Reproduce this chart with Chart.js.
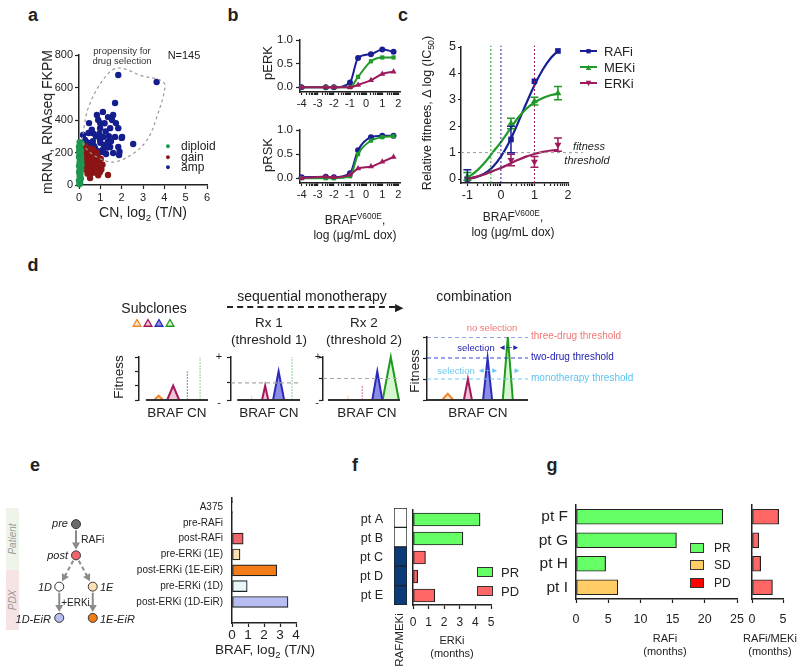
<!DOCTYPE html>
<html>
<head>
<meta charset="utf-8">
<script src="https://cdn.jsdelivr.net/npm/chart.js@4.4.1/dist/chart.umd.min.js"></script>
<style>
html, body { margin: 0; padding: 0; background: #fff; }
#fig { position: relative; width: 800px; height: 672px; overflow: hidden; font-family: 'Liberation Sans', Arial, Helvetica, sans-serif; color: #222; }
#fig canvas { position: absolute; }
.t { position: absolute; white-space: nowrap; line-height: 1; }
sub, sup { font-size: 70%; line-height: 0; }
</style>
</head>
<body>
<div id="fig"></div>
<script>
// --- DATA ---
// a: CN vs mRNA per tumour
const diploid = [[0.02,5],[0.06,12],[0,28],[0.09,40],[0.03,55],[0.07,68],[0.01,82],[0.1,95],[0.04,105],[0,118],[0.08,128],[0.03,140],[0.11,150],[0.05,160],[0,172],[0.08,182],[0.02,192],[0.06,202],[0.1,212],[0.04,222],[0,236],[0.07,246],[0.12,256],[0.03,264],[0.09,108],[0.05,195],[0.12,125],[0.02,75],[0.06,150],[0.1,178],[0.01,210],[0.07,90]];
const gain = [[0.2,120],[0.25,150],[0.3,95],[0.3,180],[0.35,130],[0.35,210],[0.4,70],[0.4,160],[0.45,110],[0.45,190],[0.5,140],[0.5,85],[0.55,170],[0.55,120],[0.6,100],[0.6,200],[0.62,150],[0.65,75],[0.68,130],[0.7,180],[0.72,110],[0.75,160],[0.78,90],[0.8,140],[0.82,200],[0.85,120],[0.88,170],[0.9,100],[0.92,150],[0.95,130],[0.98,80],[1,110],[1.02,160],[1.05,95],[0.15,170],[0.18,140],[0.22,200],[0.28,230],[0.33,105],[0.38,145],[0.42,225],[0.48,125],[0.52,100],[0.58,135],[0.63,115],[0.67,165],[0.73,145],[0.77,120],[0.83,100],[0.87,135],[1.1,125],[1.36,62],[0.52,43],[0.9,60],[0.3,240],[0.25,100],[0.65,220],[0.45,155],[0.85,185],[0.2,185]];
const amp = [[1.84,677],[3.64,634],[1.69,505],[1.12,450],[0.84,431],[1.36,418],[1.6,431],[0.47,381],[0.9,400],[1.73,381],[1.46,350],[1.84,350],[0.99,350],[0.19,308],[0.66,318],[1.13,296],[2.02,296],[1.69,296],[0.28,277],[0.52,258],[0.99,277],[1.46,234],[1.84,234],[2.54,252],[1.17,246],[0.75,228],[0.9,197],[1.27,191],[1.6,197],[1.88,185],[1.08,203],[1.2,380],[0.6,340],[1,260],[1.4,300],[0.4,250],[0.8,300],[1.5,270],[0.7,240],[1.1,215],[1.3,230],[0.55,205],[0.85,210],[1.9,205],[2,290],[1.25,330],[0.45,320],[0.95,315],[0.65,270],[1.55,400],[1,380],[0.35,265],[1.35,265]];
const selectionHull = [[0.14,277],[0.45,480],[1.2,660],[1.83,720],[3,670],[3.8,646],[4.04,610],[3.6,400],[3.19,277],[2.5,190],[1.6,141],[0.84,172],[0.3,230],[0.14,277]];
const aTicksX = [0, 1, 2, 3, 4, 5, 6];
const aTicksY = [0, 200, 400, 600, 800];

// b: signalling vs dox dose
const doseB = [-4, -2.5, -2, -1, -0.5, 0.3, 1, 1.7];
const pERK_RAFi = [0, 0, 0, 0.1, 0.62, 0.7, 0.8, 0.75];
const pERK_MEKi = [0, 0, 0, 0, 0.22, 0.55, 0.63, 0.63];
const pERK_ERKi = [0, 0, 0, 0, 0.05, 0.15, 0.28, 0.33];
const pRSK_RAFi = [0.02, 0.03, 0.02, 0.1, 0.58, 0.85, 0.88, 0.88];
const pRSK_MEKi = [0, 0, 0, 0.04, 0.5, 0.78, 0.85, 0.87];
const pRSK_ERKi = [0, 0.03, 0.02, 0.07, 0.2, 0.24, 0.34, 0.44];
const bTicksX = [-4, -3, -2, -1, 0, 1, 2];
const bTicksY = [0, 0.5, 1];

// c: relative fitness
const doseC = [-1, 0.3, 1, 1.7];
const fitRAFi = [0, 1.5, 3.7, 4.85];
const errRAFi = [0.35, 0.5, 0, 0];
const fitMEKi = [0.1, 2.1, 2.95, 3.25];
const errMEKi = [0.15, 0.2, 0.15, 0.25];
const fitERKi = [0, 0.72, 0.65, 1.3];
const errERKi = [0, 0.22, 0.2, 0.25];
const curveX = [-1, -0.75, -0.5, -0.25, 0, 0.25, 0.5, 0.75, 1, 1.25, 1.5, 1.7];
const curveRAFi = [0, 0.07, 0.2, 0.45, 0.85, 1.4, 2.1, 2.85, 3.55, 4.15, 4.6, 4.85];
const curveMEKi = [0.05, 0.28, 0.6, 1.0, 1.4, 1.85, 2.3, 2.65, 2.9, 3.07, 3.18, 3.23];
const curveERKi = [0, 0.08, 0.17, 0.3, 0.42, 0.57, 0.72, 0.85, 0.95, 1.03, 1.08, 1.1];
const ic50Lines = [-0.3, 0, 1];
const fitnessThreshold = 1;
const cTicksX = [-1, 0, 1, 2];
const cTicksY = [0, 1, 2, 3, 4, 5];

// d: schematic subclone fitness
const subcloneColor = ['#f0862a', '#a3195b', '#2b2bb8', '#1f9a1f'];
const subcloneFill = ['#fde3c8', '#f2c1d6', '#8c8ee6', '#d6f7cf'];
const subcloneFaint = ['#f5b27a', '#c97aa0', '#7c7ce0', '#8fd08f'];
const fitnessLevel = [0.3, 1, 2, 3];
const cnStep0 = [2.85, 4.95, 7.0, 8.85], wStep0 = [0.65, 0.87, 0, 0];
const cnStep1 = [3.0, 4.95, 6.9, 8.85], wStep1 = [0, 0.45, 0.8, 0];
const cnStep2 = [3.25, 5.1, 7.05, 8.8], wStep2 = [0, 0, 0.65, 1.05];
const cnComb = [2.05, 4.05, 6.0, 8.0], wComb = [0.55, 0.4, 0.45, 0.5];
const threshold1 = 1.2, threshold2 = 1.5;
const combThresholds = [1, 2, 3];
const combThresholdColor = ['#66c8f0', '#3344dd', '#3344dd'];

// e: PDX lineage and BRAF CN
const treeNodes = ['pre', 'post', '1D', '1E', '1D-EiR', '1E-EiR'];
const treeCol = [0, 0, -1, 1, -1, 1];
const treeLevel = [0, 1, 2, 2, 3, 3];
const treeFill = ['#6b6b6b', '#f0646e', '#ffffff', '#fde0b0', '#b8bdf2', '#f47c16'];
const treeEdges = [[0, 1, 'solid'], [1, 2, 'dash'], [1, 3, 'dash'], [2, 4, 'solid'], [3, 5, 'solid']];
const eCats = ['A375', 'pre-RAFi', 'post-RAFi', 'pre-ERKi (1E)', 'post-ERKi (1E-EiR)', 'pre-ERKi (1D)', 'post-ERKi (1D-EiR)'];
const eVals = [0.02, 0, 0.7, 0.5, 2.8, 0.95, 3.5];
const eColors = ['#ffffff', '#ffffff', '#f0646e', '#fde0b0', '#f47c16', '#e8f6fb', '#b8bdf2'];

// f / g: patient responses
const respColor = { PR: '#66ff66', SD: '#ffcc66', PD: '#ff6666' };
const fCats = ['pt A', 'pt B', 'pt C', 'pt D', 'pt E'];
const fERKi = [4.3, 3.2, 0.8, 0.3, 1.4];
const fResp = ['PR', 'PR', 'PD', 'PD', 'PD'];
const fPriorRafMek = [false, false, true, true, true];
const gCats = ['pt F', 'pt G', 'pt H', 'pt I'];
const gRAFi = [22.8, 15.6, 4.6, 6.5];
const gRAFiResp = ['PR', 'PR', 'PR', 'SD'];
const gRafMek = [4.3, 1.1, 1.4, 3.3];
const gRafMekResp = ['PD', 'PD', 'PD', 'PD'];

// --- HELPERS ---
const BLUE = '#1a1f96', GREEN = '#1f9a2a', PURPLE = '#9b1b5c';
Chart.defaults.font.family = "'Liberation Sans', Arial, Helvetica, sans-serif";
Chart.defaults.color = '#222';
Chart.defaults.animation = false;
Chart.defaults.responsive = false;
Chart.defaults.plugins.legend.display = false;
Chart.defaults.plugins.tooltip.enabled = false;

const fig = document.getElementById('fig');

function label(html, x, y, o = {}) {
  const d = document.createElement('div');
  d.className = 't';
  d.innerHTML = html;
  const ax = o.align === 'left' ? '0' : o.align === 'right' ? '-100%' : '-50%';
  d.style.left = x + 'px';
  d.style.top = y + 'px';
  d.style.fontSize = (o.size || 13) + 'px';
  d.style.color = o.color || '#222';
  if (o.bold) d.style.fontWeight = 'bold';
  if (o.italic) d.style.fontStyle = 'italic';
  d.style.transform = `translate(${ax},-50%)` + (o.rot ? ` rotate(${o.rot}deg)` : '');
  fig.appendChild(d);
  return d;
}

function box(l, t, w, h, css) {
  const d = document.createElement('div');
  d.style.cssText = `position:absolute;left:${l}px;top:${t}px;width:${w}px;height:${h}px;box-sizing:border-box;${css}`;
  fig.appendChild(d);
  return d;
}

// put a chart so that its plot area lands on [l, t, r, b] of the page
function mount(area, ax, cfg) {
  const [l, t, r, b] = area.map(Math.round);
  const yw = ax.yw || 0, xh = ax.xh || 0;
  const pl = ax.pl ?? 10, pr = ax.pr ?? 10, pt = ax.pt ?? 10, pb = ax.pb ?? 10;
  const W = r - l + yw + pl + pr, H = b - t + xh + pt + pb;
  const c = document.createElement('canvas');
  c.width = W; c.height = H;
  c.style.left = (l - yw - pl) + 'px';
  c.style.top = (t - pt) + 'px';
  c.style.width = W + 'px';
  c.style.height = H + 'px';
  fig.appendChild(c);
  cfg.options = cfg.options || {};
  cfg.options.devicePixelRatio = 1;
  cfg.options.layout = { padding: { left: pl, right: pr, top: pt, bottom: pb } };
  return new Chart(c, cfg);
}

function axis(o) {
  const tl = o.tl == null ? 4 : o.tl;
  const a = {
    type: o.type || 'linear',
    display: o.show !== false,
    afterFit: s => {
      if (s.isHorizontal()) s.height = o.size || 0; else s.width = o.size || 0;
      // keep label overflow from moving the plot area
      s.paddingTop = s.paddingBottom = s.paddingLeft = s.paddingRight = 0;
    },
    grid: { drawOnChartArea: false, drawTicks: tl > 0, tickLength: tl, tickColor: '#222', tickWidth: 1.2 },
    border: { display: o.border !== false, color: '#222', width: 1.5 },
    ticks: { display: o.labels !== false, color: '#222', font: { size: o.fs || 12 }, padding: o.pad == null ? 2 : o.pad, maxRotation: 0, autoSkip: false }
  };
  if (o.min != null) a.min = o.min;
  if (o.max != null) a.max = o.max;
  if (o.reverse) a.reverse = true;
  if (o.offset != null) { a.offset = o.offset; a.grid.offset = o.offset; }
  if (o.ticks) a.afterBuildTicks = s => { s.ticks = o.ticks.map(v => ({ value: v })); };
  if (o.fmt) a.ticks.callback = o.fmt;
  return a;
}

const xy = arr => arr.map(([x, y]) => ({ x, y }));
const intLabel = v => Number.isInteger(v) ? String(v) : '';
// minor ticks between decades on the log-dose axes
function decadeMinor(from, to) {
  const out = [];
  for (let k = from; k < to; k++) for (let m = 2; m <= 9; m++) out.push(k + Math.log10(m));
  return out;
}

// error bars for panel c
const errorBars = {
  id: 'errorBars',
  afterDatasetsDraw(chart) {
    const { ctx, chartArea: ca, scales: { x, y } } = chart;
    chart.data.datasets.forEach(ds => {
      if (!ds.err) return;
      ctx.save();
      ctx.beginPath();
      ctx.rect(ca.left, ca.top - 12, ca.width + 30, ca.height + 12);
      ctx.clip();
      ctx.strokeStyle = ds.borderColor;
      ctx.lineWidth = 1.5;
      ds.data.forEach((p, i) => {
        const e = ds.err[i];
        if (!e) return;
        const px = x.getPixelForValue(p.x), hi = y.getPixelForValue(p.y + e), lo = y.getPixelForValue(p.y - e);
        ctx.beginPath();
        ctx.moveTo(px, hi); ctx.lineTo(px, lo);
        ctx.moveTo(px - 4, hi); ctx.lineTo(px + 4, hi);
        ctx.moveTo(px - 4, lo); ctx.lineTo(px + 4, lo);
        ctx.stroke();
      });
      ctx.restore();
    });
  }
};

// arrows between lineage nodes for panel e
const treeArrows = {
  id: 'treeArrows',
  beforeDatasetsDraw(chart) {
    const { ctx, scales: { x, y } } = chart;
    treeEdges.forEach(([a, b, style]) => {
      const x1 = x.getPixelForValue(treeCol[a]), y1 = y.getPixelForValue(treeLevel[a]);
      const x2 = x.getPixelForValue(treeCol[b]), y2 = y.getPixelForValue(treeLevel[b]);
      const ang = Math.atan2(y2 - y1, x2 - x1), cs = Math.cos(ang), sn = Math.sin(ang);
      const sx = x1 + cs * 6, sy = y1 + sn * 6, ex = x2 - cs * 6, ey = y2 - sn * 6;
      ctx.save();
      ctx.strokeStyle = '#8a8a8a'; ctx.fillStyle = '#8a8a8a'; ctx.lineWidth = 2;
      ctx.setLineDash(style === 'dash' ? [4, 3] : []);
      ctx.beginPath(); ctx.moveTo(sx, sy); ctx.lineTo(ex - cs * 5, ey - sn * 5); ctx.stroke();
      ctx.setLineDash([]);
      ctx.beginPath();
      ctx.moveTo(ex, ey);
      ctx.lineTo(ex - cs * 7 + sn * 4, ey - sn * 7 - cs * 4);
      ctx.lineTo(ex - cs * 7 - sn * 4, ey - sn * 7 + cs * 4);
      ctx.closePath(); ctx.fill();
      ctx.restore();
    });
  }
};

// --- PANEL a ---
mount([79, 55, 207, 185], { yw: 40, xh: 18 }, {
  type: 'scatter',
  data: {
    datasets: [
      { type: 'line', data: xy(selectionHull), borderColor: '#9a9a9a', borderDash: [3, 3], borderWidth: 1.2, pointRadius: 0, tension: 0.35, fill: false, clip: false },
      { data: xy(diploid), backgroundColor: '#1e9650', borderWidth: 0, pointRadius: 3.2, clip: false },
      { data: xy(gain), backgroundColor: '#8c1414', borderWidth: 0, pointRadius: 3.2, clip: false },
      { data: xy(amp), backgroundColor: '#141e8c', borderWidth: 0, pointRadius: 3.2, clip: false }
    ]
  },
  options: {
    scales: {
      x: axis({ min: 0, max: 6, ticks: aTicksX, size: 18, fs: 11 }),
      y: axis({ min: 0, max: 800, ticks: aTicksY, size: 40, fs: 11 })
    }
  }
});

// --- PANEL b ---
function doseCurve(vals, color, style, r) {
  return { data: doseB.map((x, i) => ({ x, y: vals[i] })), borderColor: color, backgroundColor: color, borderWidth: 2, pointStyle: style, pointRadius: r, pointBorderWidth: 0, cubicInterpolationMode: 'monotone', clip: false };
}
function signalChart(area, raf, mek, erk) {
  mount(area, { yw: 40, xh: 18 }, {
    type: 'line',
    data: { datasets: [doseCurve(erk, PURPLE, 'triangle', 3.5), doseCurve(mek, GREEN, 'rect', 3), doseCurve(raf, BLUE, 'circle', 3)] },
    options: {
      scales: {
        x: axis({ min: -4.1, max: 2.1, ticks: bTicksX.concat(decadeMinor(-4, 2)), fmt: intLabel, size: 18, tl: 3, fs: 11 }),
        y: axis({ min: -0.1, max: 1, ticks: bTicksY, fmt: v => v.toFixed(1), size: 40, fs: 11.5, pad: 3 })
      }
    }
  });
}
signalChart([300, 40, 400, 92], pERK_RAFi, pERK_MEKi, pERK_ERKi);
signalChart([300, 130, 400, 183], pRSK_RAFi, pRSK_MEKi, pRSK_ERKi);

// --- PANEL c ---
const icColor = [GREEN, BLUE, PURPLE];
function fitCurve(vals, color) {
  return { type: 'line', data: curveX.map((x, i) => ({ x, y: vals[i] })), borderColor: color, borderWidth: 2.2, pointRadius: 0, tension: 0.4, clip: false };
}
function fitPts(vals, err, color, style, rot) {
  return { type: 'scatter', data: doseC.map((x, i) => ({ x, y: vals[i] })), err, backgroundColor: color, borderColor: color, borderWidth: 0, pointStyle: style, rotation: rot, pointRadius: 4, clip: false };
}
mount([461, 47, 568, 183], { yw: 30, xh: 18, pr: 20 }, {
  type: 'line',
  data: {
    datasets: [
      ...ic50Lines.map((v, i) => ({ data: [{ x: v, y: -0.15 }, { x: v, y: 5.05 }], borderColor: icColor[i], borderWidth: 1, borderDash: [2, 2], pointRadius: 0, clip: false })),
      { data: [{ x: -1.19, y: fitnessThreshold }, { x: 2.45, y: fitnessThreshold }], borderColor: '#9a9a9a', borderWidth: 1, borderDash: [3, 3], pointRadius: 0, clip: false },
      fitCurve(curveERKi, PURPLE), fitCurve(curveMEKi, GREEN), fitCurve(curveRAFi, BLUE),
      fitPts(fitERKi, errERKi, PURPLE, 'triangle', 180),
      fitPts(fitMEKi, errMEKi, GREEN, 'triangle', 0),
      fitPts(fitRAFi, errRAFi, BLUE, 'rect', 0)
    ]
  },
  options: {
    scales: {
      x: axis({ min: -1.19, max: 2, ticks: cTicksX.concat(decadeMinor(-1, 2)), fmt: intLabel, size: 18, fs: 12.5, tl: 3 }),
      y: axis({ min: -0.15, max: 5, ticks: cTicksY, size: 30, fs: 12.5, tl: 3 })
    }
  },
  plugins: [errorBars]
});

// --- PANEL d ---
function peak(i, c, w) {
  const h = fitnessLevel[i];
  if (w > 0) return { data: [{ x: c - w, y: 0 }, { x: c, y: h }, { x: c + w, y: 0 }], borderColor: subcloneColor[i], backgroundColor: subcloneFill[i], borderWidth: 2, fill: 'origin', pointRadius: 0, tension: 0, clip: false };
  return { data: [{ x: c, y: 0 }, { x: c, y: h }], borderColor: subcloneFaint[i], borderWidth: 1, borderDash: [2, 1], pointRadius: 0, fill: false, clip: false };
}
function fitnessPanel(area, cn, w, thr, thrColor, ticks, baseStart) {
  const ds = [{ data: [{ x: baseStart, y: 0 }, { x: 10, y: 0 }], borderColor: '#333', borderWidth: 2, pointRadius: 0, clip: false }];
  thr.forEach((t, i) => ds.push({ data: [{ x: 0, y: t }, { x: 10, y: t }], borderColor: thrColor[i], borderWidth: 1.2, borderDash: [4, 3], pointRadius: 0 }));
  cn.forEach((c, i) => ds.push(peak(i, c, w[i])));
  mount(area, { yw: 6, pt: 6, pb: 6 }, {
    type: 'line',
    data: { datasets: ds },
    options: { scales: { x: { type: 'linear', display: false, min: 0, max: 10 }, y: axis({ min: 0, max: 3, ticks, labels: false, size: 6, tl: 4 }) } }
  });
}
fitnessPanel([139, 357, 208, 400], cnStep0, wStep0, [], [], [0, 1, 2, 3], 1);
fitnessPanel([231, 357, 300, 400], cnStep1, wStep1, [threshold1], ['#a8a8a8'], [0, threshold1, 3], 0.9);
fitnessPanel([323, 357, 400, 400], cnStep2, wStep2, [threshold2], ['#a8a8a8'], [0, threshold2, 3], 0.65);
fitnessPanel([427, 337, 528, 400], cnComb, wComb, combThresholds, combThresholdColor, [0, 1, 2, 3], 0);

// subclone key
mount([137, 322, 170, 326], { pl: 8, pr: 8, pt: 8, pb: 8 }, {
  type: 'scatter',
  data: { datasets: [{ data: subcloneColor.map((c, i) => ({ x: i, y: 0.5 })), pointStyle: 'triangle', pointRadius: 4.5, borderWidth: 1.3, borderColor: subcloneColor, backgroundColor: subcloneFill, clip: false }] },
  options: { scales: { x: { display: false, min: 0, max: 3 }, y: { display: false, min: 0, max: 1 } } }
});

// --- PANEL e ---
mount([40.5, 507, 110.5, 635], { pl: 4, pr: 4, pt: 4, pb: 4 }, {
  type: 'scatter',
  data: { datasets: [{ data: treeNodes.map((n, i) => ({ x: treeCol[i], y: treeLevel[i] })), backgroundColor: treeFill, borderColor: '#333', borderWidth: 1, pointRadius: 4.5, clip: false }] },
  options: { scales: { x: { display: false, min: -2, max: 2 }, y: { display: false, min: -0.5, max: 3.5, reverse: true } } },
  plugins: [treeArrows]
});
mount([232, 498, 296, 623], { yw: 102, xh: 22 }, {
  type: 'bar',
  data: { datasets: [{ data: eVals.map((v, i) => ({ x: v, y: i })), backgroundColor: eColors, borderColor: '#222', borderWidth: 1.2, barThickness: 11, borderSkipped: false }] },
  options: {
    indexAxis: 'y',
    scales: {
      x: axis({ min: 0, max: 4, ticks: [0, 1, 2, 3, 4], size: 22, fs: 13.5, pad: 0 }),
      y: axis({ type: 'linear', offset: false, min: -0.57, max: 7.33, reverse: true, ticks: eCats.map((c, i) => i), fmt: v => eCats[v], size: 102, tl: 0, pad: 9, fs: 10 })
    }
  }
});

// --- PANEL f ---
mount([394, 508, 407, 605], { pl: 2, pr: 2, pt: 2, pb: 2 }, {
  type: 'bar',
  data: { labels: fCats, datasets: [{ data: fCats.map(() => 1), backgroundColor: fPriorRafMek.map(v => v ? '#0b3b78' : '#ffffff'), borderColor: '#222', borderWidth: 1, barPercentage: 1, categoryPercentage: 1, borderSkipped: false }] },
  options: { indexAxis: 'y', scales: { x: { display: false, min: 0, max: 1 }, y: { display: false } } }
});
mount([413, 509.5, 491, 604.5], { yw: 53, xh: 28 }, {
  type: 'bar',
  data: { labels: fCats, datasets: [{ data: fERKi, backgroundColor: fResp.map(r => respColor[r]), borderColor: '#222', borderWidth: 1.2, barThickness: 13, borderSkipped: false }] },
  options: {
    indexAxis: 'y',
    scales: {
      x: axis({ min: 0, max: 5, ticks: [0, 1, 2, 3, 4, 5], size: 28, fs: 12, pad: 6 }),
      y: axis({ type: 'category', size: 53, tl: 0, pad: 30, fs: 12.5 })
    }
  }
});

// --- PANEL g ---
mount([576, 505, 737, 599.4], { yw: 46, xh: 30 }, {
  type: 'bar',
  data: { labels: gCats, datasets: [{ data: gRAFi, backgroundColor: gRAFiResp.map(r => respColor[r]), borderColor: '#222', borderWidth: 1.2, barThickness: 15, borderSkipped: false }] },
  options: {
    indexAxis: 'y',
    scales: {
      x: axis({ min: 0, max: 25, ticks: [0, 5, 10, 15, 20, 25], size: 30, fs: 12.5, pad: 9 }),
      y: axis({ type: 'category', size: 46, tl: 0, pad: 8, fs: 15.5 })
    }
  }
});
mount([752, 505, 783, 599.4], { yw: 1, xh: 30 }, {
  type: 'bar',
  data: { labels: gCats, datasets: [{ data: gRafMek, backgroundColor: gRafMekResp.map(r => respColor[r]), borderColor: '#222', borderWidth: 1.2, barThickness: 15, borderSkipped: false }] },
  options: {
    indexAxis: 'y',
    scales: {
      x: axis({ min: 0, max: 5, ticks: [0, 5], size: 30, fs: 12.5, pad: 9 }),
      y: axis({ type: 'category', size: 1, tl: 0, labels: false })
    }
  }
});

// --- TEXT ---
[['a', 33, 15], ['b', 233, 15], ['c', 403, 15], ['d', 33, 265], ['e', 35, 465], ['f', 355, 465], ['g', 552, 465]]
  .forEach(([s, x, y]) => label(s, x, y, { size: 18, bold: true }));

// a
label('propensity for', 122, 51, { size: 9.5, color: '#333' });
label('drug selection', 122, 61, { size: 9.5, color: '#333' });
label('N=145', 184, 55, { size: 11 });
label('mRNA, RNAseq FKPM', 47, 122, { size: 14, rot: -90 });
label('CN, log<sub>2</sub> (T/N)', 143, 212, { size: 14 });
[['diploid', '#1e9650', 146], ['gain', '#8c1414', 157], ['amp', '#141e8c', 167]].forEach(([s, c, y]) => {
  label('●', 168, y, { size: 9, color: c });
  label(s, 181, y, { size: 12, align: 'left' });
});

// b
label('pERK', 267, 63, { size: 13, rot: -90 });
label('pRSK', 267, 155, { size: 13, rot: -90 });
label('BRAF<sup>V600E</sup>,', 355, 220, { size: 12 });
label('log (μg/mL dox)', 355, 235, { size: 12 });

// c
label('Relative fitnees, Δ log (IC<sub>50</sub>)', 427, 113, { size: 12.5, rot: -90 });
label('BRAF<sup>V600E</sup>,', 513, 217, { size: 12 });
label('log (μg/mL dox)', 513, 232, { size: 12 });
[['RAFi', BLUE, '■', 51], ['MEKi', GREEN, '▲', 67], ['ERKi', PURPLE, '▼', 83]].forEach(([s, c, g, y]) => {
  box(580, y - 1, 17, 2, `background:${c}`);
  label(g, 588.5, y, { size: 9, color: c });
  label(s, 604, y, { size: 13, align: 'left' });
});
label('fitness', 589, 146, { size: 11, italic: true });
label('threshold', 587, 160, { size: 11, italic: true });

// d
label('Subclones', 154, 308, { size: 14 });
label('sequential monotherapy', 312, 296, { size: 14 });
box(227, 306, 168, 2, 'border-top:2px dashed #222');
label('▶', 399, 307, { size: 11 });
label('Rx 1', 269, 323, { size: 13.5 });
label('(threshold 1)', 269, 340, { size: 13.5 });
label('Rx 2', 364, 323, { size: 13.5 });
label('(threshold 2)', 364, 340, { size: 13.5 });
label('combination', 474, 296, { size: 14 });
label('Fitness', 119, 377, { size: 13.5, rot: -90 });
label('Fitness', 415, 371, { size: 13.5, rot: -90 });
[177, 269, 367, 478].forEach(x => label('BRAF CN', x, 413, { size: 13.5 }));
[[219, 356, '+'], [219, 402, '-'], [318, 356, '+'], [317, 402, '-']].forEach(([x, y, s]) => label(s, x, y, { size: 11 }));
label('no selection', 492, 328, { size: 9.5, color: '#f07878' });
label('three-drug threshold', 531, 336, { size: 10, color: '#f07878', align: 'left' });
label('two-drug threshold', 531, 357, { size: 10, color: '#2222b0', align: 'left' });
label('monotherapy threshold', 531, 378, { size: 10, color: '#5cc4ef', align: 'left' });
label('selection', 476, 348, { size: 9.5, color: '#2222b0' });
label('◄─►', 509, 348, { size: 8, color: '#2222b0' });
label('selection', 456, 371, { size: 9.5, color: '#6cc8f0' });
label('◄─►', 488, 371, { size: 8, color: '#6cc8f0' });
label('►', 517, 371, { size: 8, color: '#6cc8f0' });

// e
box(6, 508, 13, 62, 'background:#eef4ea');
box(6, 570, 13, 60, 'background:#f6e4e4');
label('Patient', 12.5, 539, { size: 10, italic: true, color: '#999', rot: -90 });
label('PDX', 12.5, 600, { size: 10, italic: true, color: '#999', rot: -90 });
label('pre', 68, 523, { size: 11, italic: true, align: 'right' });
label('post', 68, 555, { size: 11, italic: true, align: 'right' });
label('RAFi', 81, 539, { size: 10.5, align: 'left' });
label('1D', 52, 587, { size: 11, italic: true, align: 'right' });
label('1E', 100, 587, { size: 11, italic: true, align: 'left' });
label('+ERKi', 75.5, 603, { size: 10 });
label('1D-EiR', 51, 619, { size: 11, italic: true, align: 'right' });
label('1E-EiR', 100, 619, { size: 11, italic: true, align: 'left' });
label('BRAF, log<sub>2</sub> (T/N)', 265, 650, { size: 13.5 });

// f
label('RAF/MEKi', 400, 640, { size: 11.5, rot: -90 });
label('ERKi', 452, 640, { size: 11 });
label('(months)', 452, 653, { size: 11 });
box(477, 567, 16, 10, `background:${respColor.PR};border:1px solid #333`);
box(477, 586, 16, 10, `background:${respColor.PD};border:1px solid #333`);
label('PR', 501, 572, { size: 13, align: 'left' });
label('PD', 501, 591, { size: 13, align: 'left' });

// g
label('RAFi', 665, 638, { size: 11 });
label('(months)', 665, 651, { size: 11 });
label('RAFi/MEKi', 770, 638, { size: 11 });
label('(months)', 770, 651, { size: 11 });
[['PR', respColor.PR, 548], ['SD', respColor.SD, 565], ['PD', '#ff0000', 583]].forEach(([s, c, y]) => {
  box(690, y - 5, 14, 10, `background:${c};border:1px solid #333`);
  label(s, 714, y, { size: 12, align: 'left' });
});
</script>
</body>
</html>
